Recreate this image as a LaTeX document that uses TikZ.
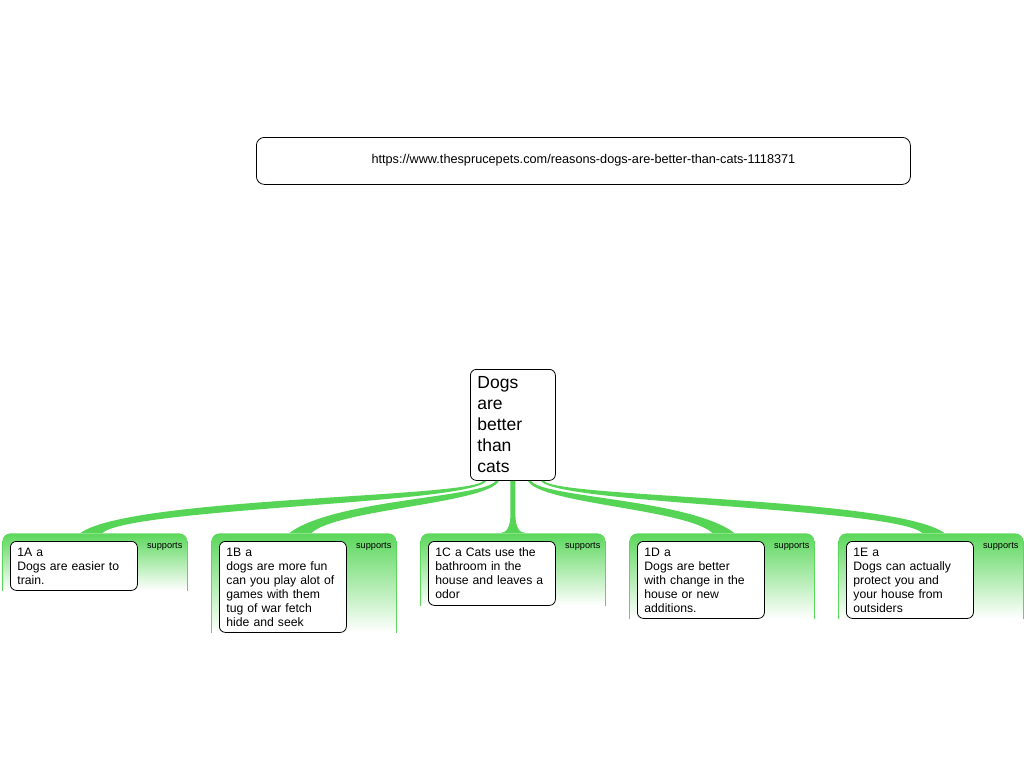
\documentclass[tikz,border=0pt]{standalone}
\usepackage{fontspec}
\setmainfont{Liberation Sans}
\usetikzlibrary{calc}
\definecolor{branchgreen}{HTML}{55D455}
\definecolor{panelgreen}{HTML}{5BD75B}
\begin{document}
\begin{tikzpicture}[x=1pt,y=-1pt,line width=0.8pt]

      \useasboundingbox (0,0) rectangle (1024,768);

      % panels behind the claims
      \begin{scope}[every node/.style={anchor=north west,rounded corners=8pt,top color=panelgreen,
          bottom color=white,minimum width=185,inner sep=0}]
        \node[minimum height=57] (p1) at (2,533)   {};
        \node[minimum height=99] (p2) at (211,533) {};
        \node[minimum height=72] (p3) at (420,533) {};
        \node[minimum height=85] (p4) at (629,533) {};
        \node[minimum height=85] (p5) at (838,533) {};
      \end{scope}

      \begin{scope}[panelgreen]
        \draw ([yshift=-8pt]p1.north west) -- (p1.south west);
        \draw ([yshift=-8pt]p1.north east) -- (p1.south east);
        \draw ([yshift=-8pt]p2.north west) -- (p2.south west);
        \draw ([yshift=-8pt]p2.north east) -- (p2.south east);
        \draw ([yshift=-8pt]p3.north west) -- (p3.south west);
        \draw ([yshift=-8pt]p3.north east) -- (p3.south east);
        \draw ([yshift=-8pt]p4.north west) -- (p4.south west);
        \draw ([yshift=-8pt]p4.north east) -- (p4.south east);
        \draw ([yshift=-8pt]p5.north west) -- (p5.south west);
        \draw ([yshift=-8pt]p5.north east) -- (p5.south east);
      \end{scope}

      \node[draw,rounded corners=8pt,anchor=north west,minimum width=654,minimum height=47,
        text height=6pt,text depth=0pt,font=\fontsize{12.7}{15}\selectfont] (url) at (256,137)
        {https://www.thesprucepets.com/reasons-dogs-are-better-than-cats-1118371};

      \node[draw,fill=white,rounded corners=6pt,anchor=north west,text width=71,inner xsep=7,
        minimum height=111,align=left,font=\fontsize{17.5}{21}\selectfont] (dogs) at (470,369)
        {Dogs\\are\\better\\than\\cats};

      % claims
      \begin{scope}[every node/.style={draw,fill=white,rounded corners=6pt,anchor=north west,
          text width=113,inner xsep=7,inner ysep=0,align=left,font=\fontsize{12.2}{14}\selectfont}]
        \node[minimum height=49] (b1) at (10,541)  {1A a\\Dogs are easier to\\train.};
        \node[minimum height=91] (b2) at (219,541) {1B a\\dogs are more fun\\can you play alot of\\games with them\\tug of war fetch\\hide and seek};
        \node[minimum height=64] (b3) at (428,541) {1C a Cats use the\\bathroom in the\\house and leaves a\\odor};
        \node[minimum height=77] (b4) at (637,541) {1D a\\Dogs are better\\with change in the\\house or new\\additions.};
        \node[minimum height=77] (b5) at (846,541) {1E a\\Dogs can actually\\protect you and\\your house from\\outsiders};
      \end{scope}

      \begin{scope}[every node/.style={anchor=north east,inner sep=0,font=\fontsize{9.2}{11}\selectfont}]
        \node (s1) at ([xshift=-5pt,yshift=-9pt]p1.north east) {supports};
        \node (s2) at ([xshift=-5pt,yshift=-9pt]p2.north east) {supports};
        \node (s3) at ([xshift=-5pt,yshift=-9pt]p3.north east) {supports};
        \node (s4) at ([xshift=-5pt,yshift=-9pt]p4.north east) {supports};
        \node (s5) at ([xshift=-5pt,yshift=-9pt]p5.north east) {supports};
      \end{scope}

      % branches, thin at the topic and wide at the panel
      \begin{scope}[branchgreen]
        \fill ($(dogs.south)+(-29.5,0)$) .. controls +(-12,17) and +(50,-36) .. ($(p1.north)+(-14.5,0)$)
          -- ($(p1.north)+(7.5,0)$) .. controls +(28,-25) and +(-14,23) .. ($(dogs.south)+(-26.5,0)$) -- cycle;
        \fill ($(dogs.south)+(-17,0)$) .. controls +(-12,17) and +(45,-34) .. ($(p2.north)+(-14.5,0)$)
          -- ($(p2.north)+(7.5,0)$) .. controls +(26,-24) and +(-12,23) .. ($(dogs.south)+(-14,0)$) -- cycle;
        \fill ($(dogs.south)+(-2.5,0)$) -- ($(p3.north)+(-2.5,-18)$) .. controls +(0,12) and +(6,0) .. ($(p3.north)+(-12.5,0)$)
          -- ($(p3.north)+(12.5,0)$) .. controls +(-6,0) and +(0,12) .. ($(p3.north)+(2.5,-18)$) -- ($(dogs.south)+(2.5,0)$) -- cycle;
        \fill ($(dogs.south)+(18,0)$) .. controls +(12,17) and +(-45,-34) .. ($(p4.north)+(12.5,0)$)
          -- ($(p4.north)+(-9.5,0)$) .. controls +(-26,-24) and +(12,23) .. ($(dogs.south)+(15,0)$) -- cycle;
        \fill ($(dogs.south)+(31,0)$) .. controls +(12,17) and +(-50,-36) .. ($(p5.north)+(13.5,0)$)
          -- ($(p5.north)+(-8.5,0)$) .. controls +(-28,-25) and +(14,23) .. ($(dogs.south)+(28,0)$) -- cycle;
      \end{scope}

    \end{tikzpicture}
\end{document}
